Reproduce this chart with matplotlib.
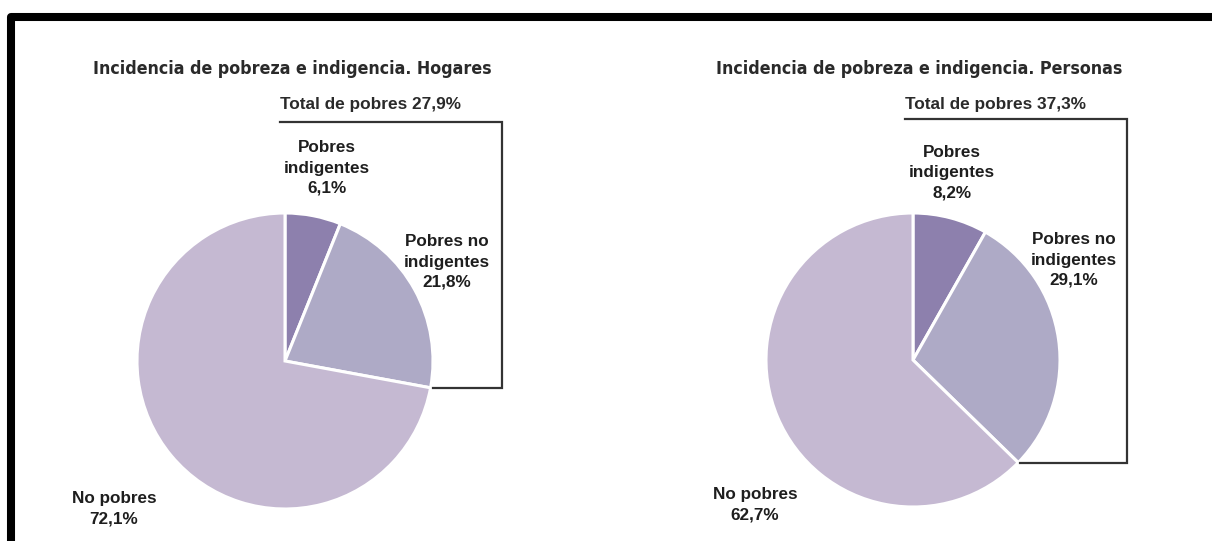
import numpy as np
import matplotlib
matplotlib.use('Agg')
import matplotlib.pyplot as plt

# data
categories = ['Pobres\nindigentes', 'Pobres no\nindigentes', 'No pobres']
hogares = [6.1, 21.8, 72.1]
personas = [8.2, 29.1, 62.7]
titles = ['Incidencia de pobreza e indigencia. Hogares',
          'Incidencia de pobreza e indigencia. Personas']
total_label = 'Total de pobres'

colors = ['#8d80ad', '#aeaac6', '#c5b9d2']
text_color = '#1e1e1e'
line_color = '#333333'

W, H = 1212, 541


def fmt(v):
    return f'{v:.1f}%'.replace('.', ',')


def Y(py):
    # pixel row (from top) -> data y
    return H - py


fig = plt.figure(figsize=(W / 100, H / 100), dpi=100)
ax = fig.add_axes([0, 0, 1, 1])

label_font = dict(family=['Liberation Sans', 'DejaVu Sans'], fontweight='bold',
                  fontsize=12.3, color=text_color, ha='center', va='center',
                  linespacing=1.43)
title_font = dict(family=['DejaVu Sans'], fontstretch='condensed',
                  fontweight='bold', fontsize=12.8, color='#2a2a2a',
                  ha='left', va='center')

# per-panel layout (pixels)
panels = [
    dict(values=hogares, title=titles[0], cx=285, cy=361, r=148,
         title_x=93, total_x=280, bx=502, by=122,
         lab_pos=[(327, 168), (447, 262), (114, 509)]),
    dict(values=personas, title=titles[1], cx=913, cy=360, r=147,
         title_x=716, total_x=905, bx=1127, by=119,
         lab_pos=[(952, 173), (1074, 260), (755, 505)]),
]

for p in panels:
    vals = p['values']
    ax.pie(vals, colors=colors, startangle=90, counterclock=False,
           center=(p['cx'], Y(p['cy'])), radius=p['r'],
           wedgeprops=dict(edgecolor='white', linewidth=2.2))

    ax.text(p['title_x'], Y(69), p['title'], **title_font)

    total = vals[0] + vals[1]
    ax.text(p['total_x'], Y(105), f'{total_label} {fmt(total)}',
            family=['Liberation Sans', 'DejaVu Sans'], fontweight='bold',
            fontsize=12.4, color='#2a2a2a', ha='left', va='center')

    # bracket ends at the pie edge where the poor share finishes
    ang = np.deg2rad(90 - 360 * total / 100)
    ex = p['cx'] + p['r'] * np.cos(ang)
    ey = Y(p['cy']) + p['r'] * np.sin(ang)
    ax.plot([p['total_x'], p['bx'], p['bx'], ex + 2],
            [Y(p['by']), Y(p['by']), ey, ey],
            color=line_color, lw=1.6, solid_joinstyle='miter')

    for cat, v, (lx, ly) in zip(categories, vals, p['lab_pos']):
        ax.text(lx, Y(ly), f'{cat}\n{fmt(v)}', **label_font)

# heavy frame on top and left
ax.plot([11, 11, W + 5], [-5, Y(17), Y(17)], color='black', lw=5.8,
        solid_joinstyle='round', solid_capstyle='butt', clip_on=False)

ax.set_xlim(0, W)
ax.set_ylim(0, H)
ax.set_aspect('auto')
ax.axis('off')

fig.savefig('out.png', dpi=100, facecolor='white')
